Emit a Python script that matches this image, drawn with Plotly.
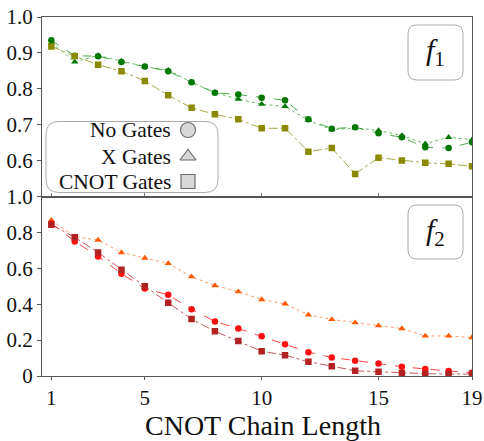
import plotly.graph_objects as go
from plotly.subplots import make_subplots

chain_length = list(range(1, 20))
x_tick_vals = [1, 5, 10, 15, 19]

# f1 panel
f1_no_gates = [0.935, 0.892, 0.891, 0.875, 0.862, 0.849, 0.818, 0.789, 0.784, 0.775,
               0.768, 0.715, 0.689, 0.693, 0.676, 0.665, 0.637, 0.635, 0.651]
f1_x_gates = [0.928, 0.875, 0.893, 0.877, 0.862, 0.852, 0.818, 0.790, 0.771, 0.757,
              0.751, 0.712, 0.686, 0.691, 0.684, 0.670, 0.647, 0.665, 0.658]
f1_cnot_gates = [0.918, 0.891, 0.867, 0.849, 0.822, 0.782, 0.747, 0.729, 0.715, 0.690,
                 0.690, 0.625, 0.635, 0.563, 0.608, 0.600, 0.594, 0.591, 0.584]

# f2 panel
f2_no_gates = [0.850, 0.750, 0.666, 0.570, 0.487, 0.452, 0.372, 0.304, 0.264, 0.221,
               0.177, 0.133, 0.103, 0.085, 0.070, 0.052, 0.039, 0.028, 0.018]
f2_x_gates = [0.867, 0.777, 0.757, 0.688, 0.657, 0.627, 0.553, 0.504, 0.470, 0.426,
              0.402, 0.341, 0.315, 0.297, 0.280, 0.264, 0.223, 0.223, 0.214]
f2_cnot_gates = [0.843, 0.773, 0.688, 0.592, 0.500, 0.408, 0.317, 0.249, 0.195, 0.138,
                 0.116, 0.079, 0.055, 0.029, 0.024, 0.017, 0.013, 0.011, 0.011]

top_ticks = [0.6, 0.7, 0.8, 0.9, 1.0]
top_ticktext = ["0.6", "0.7", "0.8", "0.9", "1.0"]
bot_ticks = [0, 0.2, 0.4, 0.6, 0.8, 1.0]
bot_ticktext = ["0", "0.2", "0.4", "0.6", "0.8", "1.0"]

legend_labels = ["No Gates", "X Gates", "CNOT Gates"]
legend_symbols = ["circle", "triangle-up", "square"]

FONT = "Liberation Serif"
W, H = 484, 441
L, R, T, B = 42, 12, 17, 65
PW, PH = W - L - R, H - T - B


def px(x):
    return (x - L) / PW


def py(y):
    return (T + PH - y) / PH


def rounded_path(x0, y0, x1, y1, r):
    rx, ry = r / PW, r / PH
    a0, a1 = px(x0), px(x1)
    b0, b1 = py(y1), py(y0)  # bottom, top
    return (f"M {a0+rx},{b1} L {a1-rx},{b1} Q {a1},{b1} {a1},{b1-ry} "
            f"L {a1},{b0+ry} Q {a1},{b0} {a1-rx},{b0} L {a0+rx},{b0} "
            f"Q {a0},{b0} {a0},{b0+ry} L {a0},{b1-ry} Q {a0},{b1} {a0+rx},{b1} Z")


fig = make_subplots(rows=2, cols=1, shared_xaxes=True, vertical_spacing=0)


def add_series(y, color, line_rgba, symbol, dash, row, size):
    fig.add_trace(go.Scatter(
        x=chain_length, y=y, mode="lines+markers",
        line=dict(color=line_rgba, width=1.0, dash=dash),
        marker=dict(symbol=symbol, size=size, color=color, line=dict(width=0)),
        showlegend=False), row=row, col=1)


add_series(f1_x_gates, "#007800", "rgba(0,140,0,0.6)", "triangle-up", "dot", 1, 6.5)
add_series(f1_no_gates, "#007800", "rgba(0,140,0,0.7)", "circle", "dash", 1, 6.5)
add_series(f1_cnot_gates, "#8a8a00", "rgba(138,138,0,0.75)", "square", "dashdot", 1, 6.5)

add_series(f2_x_gates, "#ff5a00", "rgba(255,110,40,0.7)", "triangle-up", "dot", 2, 6.5)
add_series(f2_no_gates, "#ff1010", "rgba(255,0,0,0.75)", "circle", "dash", 2, 6.5)
add_series(f2_cnot_gates, "#b22222", "rgba(178,34,34,0.75)", "square", "dashdot", 2, 6.5)

# legend glyphs on an overlay axis spanning the plot area
leg_x = [px(188)] * 3
leg_y = [py(130), py(156.5), py(181.5)]
fig.add_trace(go.Scatter(
    x=leg_x, y=leg_y, mode="markers", xaxis="x3", yaxis="y3",
    marker=dict(symbol=legend_symbols, size=[15, 14, 14], color="#c8c8c8",
                line=dict(color="#333333", width=1.2)),
    showlegend=False, hoverinfo="skip"))

axis_line = dict(showline=True, linecolor="#555555", linewidth=1.3, mirror=True,
                 showgrid=False, zeroline=False, automargin=False)
tickfont = dict(family=FONT, size=21, color="#111111")

fig.update_xaxes(range=[0.6, 19], tickvals=x_tick_vals, **axis_line)
fig.update_xaxes(showticklabels=False, ticks="inside", ticklen=3, tickcolor="#777", row=1, col=1)
fig.update_xaxes(ticks="outside", ticklen=3, tickcolor="#555", tickfont=tickfont,
                 row=2, col=1)
fig.update_yaxes(range=[0.5, 1.0], tickvals=top_ticks, ticktext=top_ticktext,
                 ticks="outside", ticklen=4, tickcolor="#555", tickfont=tickfont,
                 row=1, col=1, **axis_line)
fig.update_yaxes(range=[0, 1.0], tickvals=bot_ticks, ticktext=bot_ticktext,
                 ticks="outside", ticklen=4, tickcolor="#555", tickfont=tickfont,
                 row=2, col=1, **axis_line)

fig.update_layout(
    xaxis3=dict(domain=[0, 1], range=[0, 1], visible=False, anchor="y3", fixedrange=True),
    yaxis3=dict(domain=[0, 1], range=[0, 1], visible=False, anchor="x3", fixedrange=True),
    width=W, height=H,
    margin=dict(l=L, r=R, t=T, b=B),
    paper_bgcolor="white", plot_bgcolor="rgba(0,0,0,0)",
    font=dict(family=FONT, color="#111"),
    showlegend=False,
)

shapes = [
    dict(type="path", xref="paper", yref="paper", path=rounded_path(46, 121.5, 218, 192.5, 13),
         line=dict(color="#aaaaaa", width=1), layer="above"),
    dict(type="path", xref="paper", yref="paper", path=rounded_path(408, 25, 463, 80, 9),
         line=dict(color="#aaaaaa", width=1), layer="above"),
    dict(type="path", xref="paper", yref="paper", path=rounded_path(408, 205, 463, 259, 9),
         line=dict(color="#aaaaaa", width=1), layer="above"),
]
fig.update_layout(shapes=shapes)

annotations = []
for lab, yy in zip(legend_labels, [130, 156.5, 181.5]):
    annotations.append(dict(x=px(173), y=py(yy), xref="paper", yref="paper", text=lab,
                            showarrow=False, xanchor="right", yanchor="middle",
                            font=dict(family=FONT, size=21.5, color="#111")))
for lab, yy in [("1", 52.5), ("2", 232)]:
    annotations.append(dict(x=px(435.5), y=py(yy), xref="paper", yref="paper",
                            text=f"<i>f</i><sub>{lab}</sub>", showarrow=False,
                            xanchor="center", yanchor="middle",
                            font=dict(family=FONT, size=30, color="#111")))
annotations.append(dict(x=px(263), y=py(425), xref="paper", yref="paper",
                        text="CNOT Chain Length", showarrow=False,
                        xanchor="center", yanchor="middle",
                        font=dict(family=FONT, size=28, color="#111")))
fig.update_layout(annotations=annotations)

fig.write_html("out.html", config={"displayModeBar": False},
               post_script="document.body.style.margin='0';document.body.style.overflow='hidden';")
